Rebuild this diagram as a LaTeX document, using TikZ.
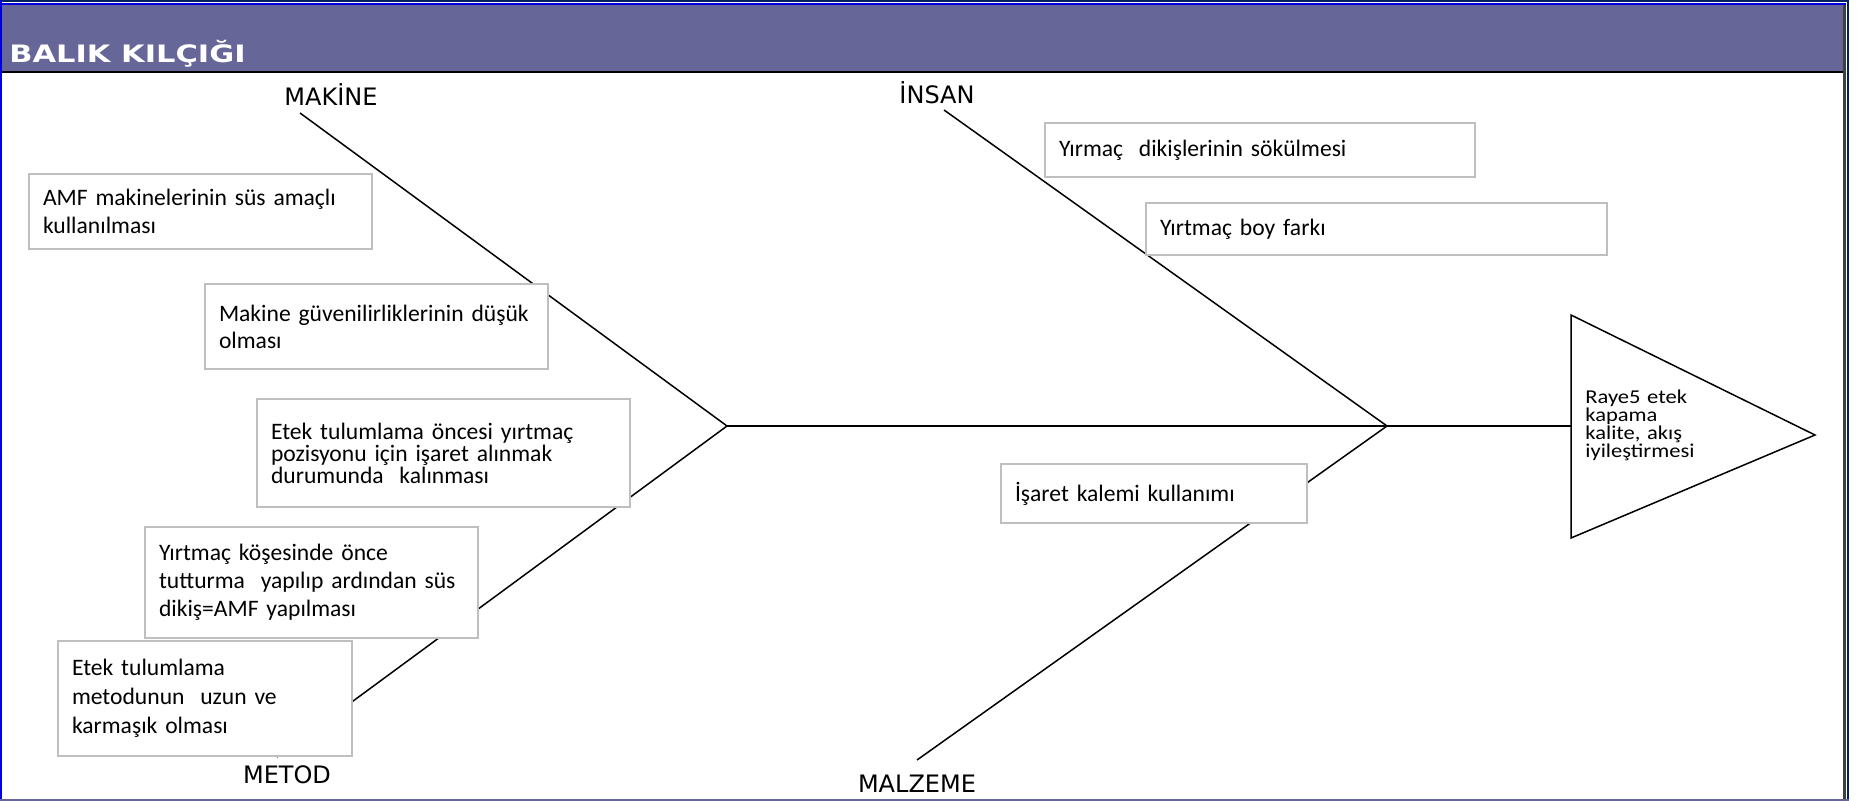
\documentclass[tikz,border=0pt]{standalone}
\usepackage{fontspec}
\setmainfont{Carlito}
\newfontfamily\labelfont{DejaVu Sans}
\newfontfamily\headfont[FakeStretch=1.27]{DejaVu Sans}
\newfontfamily\effectface[FakeStretch=1.15]{Carlito}

\definecolor{headpurple}{RGB}{102,102,153}
\definecolor{framenavy}{RGB}{0,32,96}
\definecolor{frameblue}{RGB}{0,0,220}
\definecolor{boxgray}{RGB}{191,191,191}
\definecolor{edgegray}{RGB}{64,64,64}

\newcommand{\causefont}[1]{\fontsize{11.8}{#1}\selectfont\lineskiplimit=-20pt\relax}
\newcommand{\effectfont}{\effectface\fontsize{9.8}{9}\selectfont\lineskiplimit=-20pt\relax}

\tikzset{
	bone/.style={line width=0.75pt},
	cause/.style={draw=boxgray, line width=1pt, fill=white, align=left, inner xsep=7pt, inner ysep=0pt, font=\causefont{#1}},
	catlabel/.style={font=\labelfont\fontsize{12}{14}\selectfont, inner sep=0pt}
}

\begin{document}
\begin{tikzpicture}[x=0.5pt, y=-0.5pt]
	\useasboundingbox (0,0) rectangle (1862,801);

	%header band and outer frame
	\fill[headpurple] (2,5) rectangle (1846,72);
	\draw[line width=1pt] (2,72.5) -- (1843,72.5);
	\draw[framenavy, line width=0.8pt] (0,0.8) -- (1849,0.8);
	\draw[frameblue, line width=1.2pt] (0,3.8) -- (1846,3.8);
	\draw[frameblue, line width=1.2pt] (1.2,0) -- (1.2,801);
	\draw[edgegray, line width=1.6pt] (1844.5,5) -- (1844.5,801);
	\draw[framenavy, line width=1pt] (1848,0) -- (1848,801);
	\draw[headpurple, line width=0.8pt] (0,800) -- (1849,800);
	\node[anchor=base west, text=white, inner sep=0pt, font=\headfont\bfseries\fontsize{12}{14}\selectfont] (title) at (9,63) {BALIK KILÇIĞI};

	%spine and the four bones
	\coordinate (j1) at (727,426);
	\coordinate (j2) at (1387,426);
	\coordinate (head) at (1571,426);
	\coordinate (makEnd) at (300,113);
	\coordinate (metEnd) at (277,757);
	\coordinate (insEnd) at (944,110);
	\coordinate (malEnd) at (917,760);
	\draw[bone] (j1) -- (j2) -- (head);
	\draw[bone] (makEnd) -- (j1) -- (metEnd);
	\draw[bone] (insEnd) -- (j2) -- (malEnd);

	%fish head with the effect
	\coordinate (triTop) at (1571,315);
	\coordinate (triBot) at (1571,538);
	\coordinate (triTip) at (1815,435);
	\draw[bone] (triTop) -- (triTip) -- (triBot) -- cycle;
	\node[anchor=west, align=left, text width=66pt, inner sep=0pt, font=\effectfont] (effect) at (1585,425) {Raye5 etek\\kapama\\kalite, akış\\iyileştirmesi};

	%category labels
	\node[catlabel] (makine) at (331,95) {MAKİNE};
	\node[catlabel] (insan) at (937,93) {İNSAN};
	\node[catlabel] (metod) at (287,775) {METOD};
	\node[catlabel] (malzeme) at (917,784) {MALZEME};

	%causes, machine and method side
	\node[cause=14, text width=157.5pt, minimum height=37.5pt] (amf) at (200.5,211.5) {AMF makinelerinin süs amaçlı\\kullanılması};
	\node[cause=13.5, text width=157.5pt, minimum height=42.5pt] (guven) at (376.5,326.5) {\mbox{Makine güvenilirliklerinin düşük}\\olması};
	\node[cause=11, text width=172.5pt, minimum height=54pt] (isaretAl) at (443.5,453) {Etek tulumlama öncesi yırtmaç\\pozisyonu için işaret alınmak\\durumunda\ \ kalınması};
	\node[cause=14, text width=152.5pt, minimum height=55.5pt] (kose) at (311.5,582.5) {Yırtmaç köşesinde önce\\\mbox{tutturma\ \ yapılıp ardından süs}\\dikiş=AMF yapılması};
	\node[cause=14.5, text width=133pt, minimum height=57.5pt] (uzun) at (205,698.5) {Etek tulumlama\\metodunun\ \ uzun ve\\karmaşık olması};

	%causes, people and material side
	\node[cause=14, text width=201pt, minimum height=27pt] (sokum) at (1260,150) {Yırmaç\ \ dikişlerinin sökülmesi};
	\node[cause=14, text width=216.5pt, minimum height=26pt] (boyFark) at (1376.5,229) {Yırtmaç boy farkı};
	\node[cause=14, text width=139pt, minimum height=29.5pt] (kalem) at (1154,493.5) {İşaret kalemi kullanımı};

\end{tikzpicture}
\end{document}
